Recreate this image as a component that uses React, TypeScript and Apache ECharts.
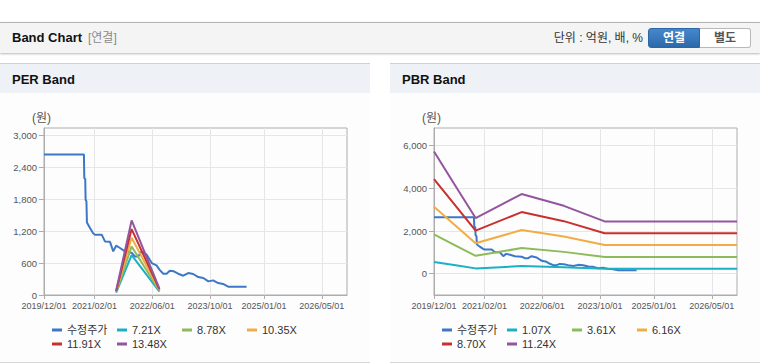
import React, { useEffect, useRef } from 'react';
import * as echarts from 'echarts';

const FONT = '"Liberation Sans", Arial, "Noto Sans CJK KR", sans-serif';

// x axis (dates)
const xStart = '2019/12/01';
const xEnd = '2026/12/01';
const xTickDates = ['2019/12/01', '2021/02/01', '2022/06/01', '2023/10/01', '2025/01/01', '2026/05/01'];

// adjusted price (수정주가)
const priceDates = [
  '2019/12/01', '2020/11/03', '2020/11/06', '2020/11/14', '2020/11/17', '2020/11/24', '2020/11/28',
  '2020/12/23', '2021/01/20', '2021/02/04', '2021/04/01', '2021/04/28', '2021/06/10', '2021/07/07',
  '2021/08/01', '2021/09/03', '2021/10/15', '2021/12/10', '2022/01/07', '2022/02/04', '2022/03/03',
  '2022/04/15', '2022/05/28', '2022/07/07', '2022/08/01', '2022/09/03', '2022/10/01', '2022/10/28',
  '2022/12/01', '2023/01/07', '2023/02/18', '2023/04/01', '2023/05/12', '2023/06/24', '2023/08/06',
  '2023/09/18', '2023/10/28', '2023/12/10', '2024/01/21', '2024/03/03', '2024/04/15', '2024/08/06',
];
const priceValues = [
  2640, 2640, 2200, 2180, 1790, 1760, 1365,
  1265, 1160, 1134, 1134, 1008, 1000, 820,
  927, 884, 820, 795, 726, 726, 820,
  758, 601, 557, 476, 400, 400, 457,
  445, 400, 363, 413, 395, 338, 320,
  256, 275, 225, 207, 156, 156, 156,
];

// PER band
const perNames = ['수정주가', '7.21X', '8.78X', '10.35X', '11.91X', '13.48X'];
const perBandDates = ['2021/08/01', '2021/12/10', '2022/08/01'];
const per721 = [43, 750, 65];
const per878 = [53, 913, 79];
const per1035 = [62, 1076, 93];
const per1191 = [71, 1239, 107];
const per1348 = [81, 1402, 121];
const perYTicks = [0, 600, 1200, 1800, 2400, 3000];

// PBR band
const pbrNames = ['수정주가', '1.07X', '3.61X', '6.16X', '8.70X', '11.24X'];
const pbrBandDates = ['2019/12/01', '2020/06/01', '2020/11/17', '2021/12/10', '2022/12/01', '2023/11/10', '2026/12/01'];
const pbr107 = [546, 391, 248, 355, 303, 233, 233];
const pbr361 = [1841, 1318, 838, 1199, 1022, 787, 787];
const pbr616 = [3142, 2248, 1429, 2045, 1743, 1343, 1343];
const pbr870 = [4437, 3176, 2018, 2888, 2462, 1897, 1897];
const pbr1124 = [5732, 4103, 2608, 3732, 3181, 2450, 2450];
const pbrYTicks = [0, 2000, 4000, 6000];

const colors = ['#3c78c6', '#1bb0c4', '#8dbb59', '#f2ac44', '#c8302f', '#93559e'];

function monthIndex(s: string): number {
  const [y, m, d] = s.split('/').map(Number);
  const dim = new Date(y, m, 0).getDate();
  return (y - 2019) * 12 + (m - 12) + (d - 1) / dim;
}

function pairs(dates: string[], vals: number[]) {
  return dates.map((d, i) => [monthIndex(d), vals[i]]);
}

function fmtNum(v: number) {
  return v.toLocaleString('en-US');
}

function buildOption(names: string[], data: number[][][], yMin: number, yMax: number, yTicks: number[]) {
  const xTickVals = xTickDates.map(monthIndex);
  return {
    animation: false,
    textStyle: { fontFamily: FONT },
    grid: {
      left: 44, top: 35, width: 303, height: 167,
      show: true, borderColor: '#adadad', borderWidth: 1, containLabel: false,
    },
    legend: {
      left: 52, top: 230, width: 270, padding: 0, itemGap: 0,
      itemWidth: 10, itemHeight: 3, icon: 'rect',
      textStyle: { fontSize: 11, color: '#333', width: 50, lineHeight: 14, fontFamily: FONT },
      data: names,
    },
    xAxis: {
      type: 'value',
      min: monthIndex(xStart),
      max: monthIndex(xEnd),
      axisLine: { show: true, onZero: false, lineStyle: { color: '#adadad' } },
      axisTick: { show: true, length: 4, lineStyle: { color: '#adadad' }, customValues: xTickVals },
      axisLabel: {
        customValues: xTickVals,
        color: '#555', fontSize: 9, margin: 6, fontFamily: FONT,
        formatter: (v: number) => {
          let best = 0;
          xTickVals.forEach((t, i) => { if (Math.abs(t - v) < Math.abs(xTickVals[best] - v)) best = i; });
          return xTickDates[best];
        },
      },
      splitLine: { show: true, lineStyle: { color: '#e6e6e6' } },
    },
    yAxis: {
      type: 'value',
      min: yMin,
      max: yMax,
      name: '(원)',
      nameLocation: 'end',
      nameGap: 4,
      nameTextStyle: { color: '#555', fontSize: 12, padding: [0, 5, 0, 0], fontFamily: FONT },
      axisLine: { show: true, lineStyle: { color: '#adadad' } },
      axisTick: { show: true, length: 5, lineStyle: { color: '#adadad' }, customValues: yTicks },
      axisLabel: {
        customValues: yTicks, color: '#555', fontSize: 9.5, margin: 7, fontFamily: FONT,
        formatter: (v: number) => fmtNum(v),
      },
      splitLine: { show: true, lineStyle: { color: '#e6e6e6' } },
    },
    series: names.map((n, i) => ({
      type: 'line',
      name: n,
      data: data[i],
      showSymbol: false,
      symbol: 'none',
      color: colors[i],
      itemStyle: { color: colors[i] },
      lineStyle: { width: 2, color: colors[i] },
    })),
  };
}

const perOption = buildOption(
  perNames,
  [
    pairs(priceDates, priceValues),
    pairs(perBandDates, per721),
    pairs(perBandDates, per878),
    pairs(perBandDates, per1035),
    pairs(perBandDates, per1191),
    pairs(perBandDates, per1348),
  ],
  0, 3140, perYTicks,
);

const pbrOption = buildOption(
  pbrNames,
  [
    pairs(priceDates, priceValues),
    pairs(pbrBandDates, pbr107),
    pairs(pbrBandDates, pbr361),
    pairs(pbrBandDates, pbr616),
    pairs(pbrBandDates, pbr870),
    pairs(pbrBandDates, pbr1124),
  ],
  -1000, 6830, pbrYTicks,
);

function ChartBox({ option, style }: { option: any; style: React.CSSProperties }) {
  const ref = useRef<HTMLDivElement>(null);
  useEffect(() => {
    const c = echarts.init(ref.current as HTMLDivElement, null, { renderer: 'svg' });
    c.setOption(option);
    return () => c.dispose();
  }, [option]);
  return <div ref={ref} style={style} />;
}

function Panel({ left, title, option }: { left: number; title: string; option: any }) {
  return (
    <>
      <div style={{
        position: 'absolute', left, top: 63, width: 370, height: 29,
        borderTop: '1px solid #d0d0d0', background: '#eef2f7',
      }}>
        <span style={{ position: 'absolute', left: 12, top: 0, lineHeight: '32px', fontSize: 13, fontWeight: 'bold', color: '#111' }}>{title}</span>
      </div>
      <div style={{
        position: 'absolute', left, top: 93, width: 370, height: 269,
        background: '#fdfdfd', borderBottom: '1px solid #d8d8d8',
      }} />
      <ChartBox option={option} style={{ position: 'absolute', left, top: 93, width: 370, height: 269 }} />
    </>
  );
}

export default function App() {
  return (
    <div style={{ position: 'absolute', left: 0, top: 0, width: 760, height: 364, background: '#fff', fontFamily: FONT, overflow: 'hidden' }}>
      <div style={{
        position: 'absolute', left: 0, top: 22, width: 760, height: 30,
        background: '#f4f4f4', borderTop: '1px solid #b4b4b4', boxShadow: '0 1px 2px rgba(0,0,0,0.28)',
      }}>
        <span style={{ position: 'absolute', left: 12, top: 0, lineHeight: '30px', fontSize: 13, fontWeight: 'bold', color: '#111' }}>Band Chart</span>
        <span style={{ position: 'absolute', left: 88, top: 0, lineHeight: '30px', fontSize: 12, color: '#8a8a8a' }}>[연결]</span>
        <span style={{ position: 'absolute', right: 117, top: 0, lineHeight: '30px', fontSize: 12, color: '#333' }}>단위 : 억원, 배, %</span>
        <div style={{
          position: 'absolute', left: 648, top: 5, width: 52, height: 20, boxSizing: 'border-box',
          background: 'linear-gradient(#4687cc, #2c69aa)', border: '1px solid #2c66a5', borderRadius: '3px 0 0 3px',
          color: '#fff', fontSize: 12, fontWeight: 'bold', textAlign: 'center', lineHeight: '18px',
        }}>연결</div>
        <div style={{
          position: 'absolute', left: 700, top: 5, width: 51, height: 20, boxSizing: 'border-box',
          background: '#fff', border: '1px solid #b8b8b8', borderLeft: 'none', borderRadius: '0 3px 3px 0',
          color: '#555', fontSize: 12, fontWeight: 'bold', textAlign: 'center', lineHeight: '18px',
        }}>별도</div>
      </div>
      <Panel left={0} title="PER Band" option={perOption} />
      <Panel left={390} title="PBR Band" option={pbrOption} />
    </div>
  );
}
